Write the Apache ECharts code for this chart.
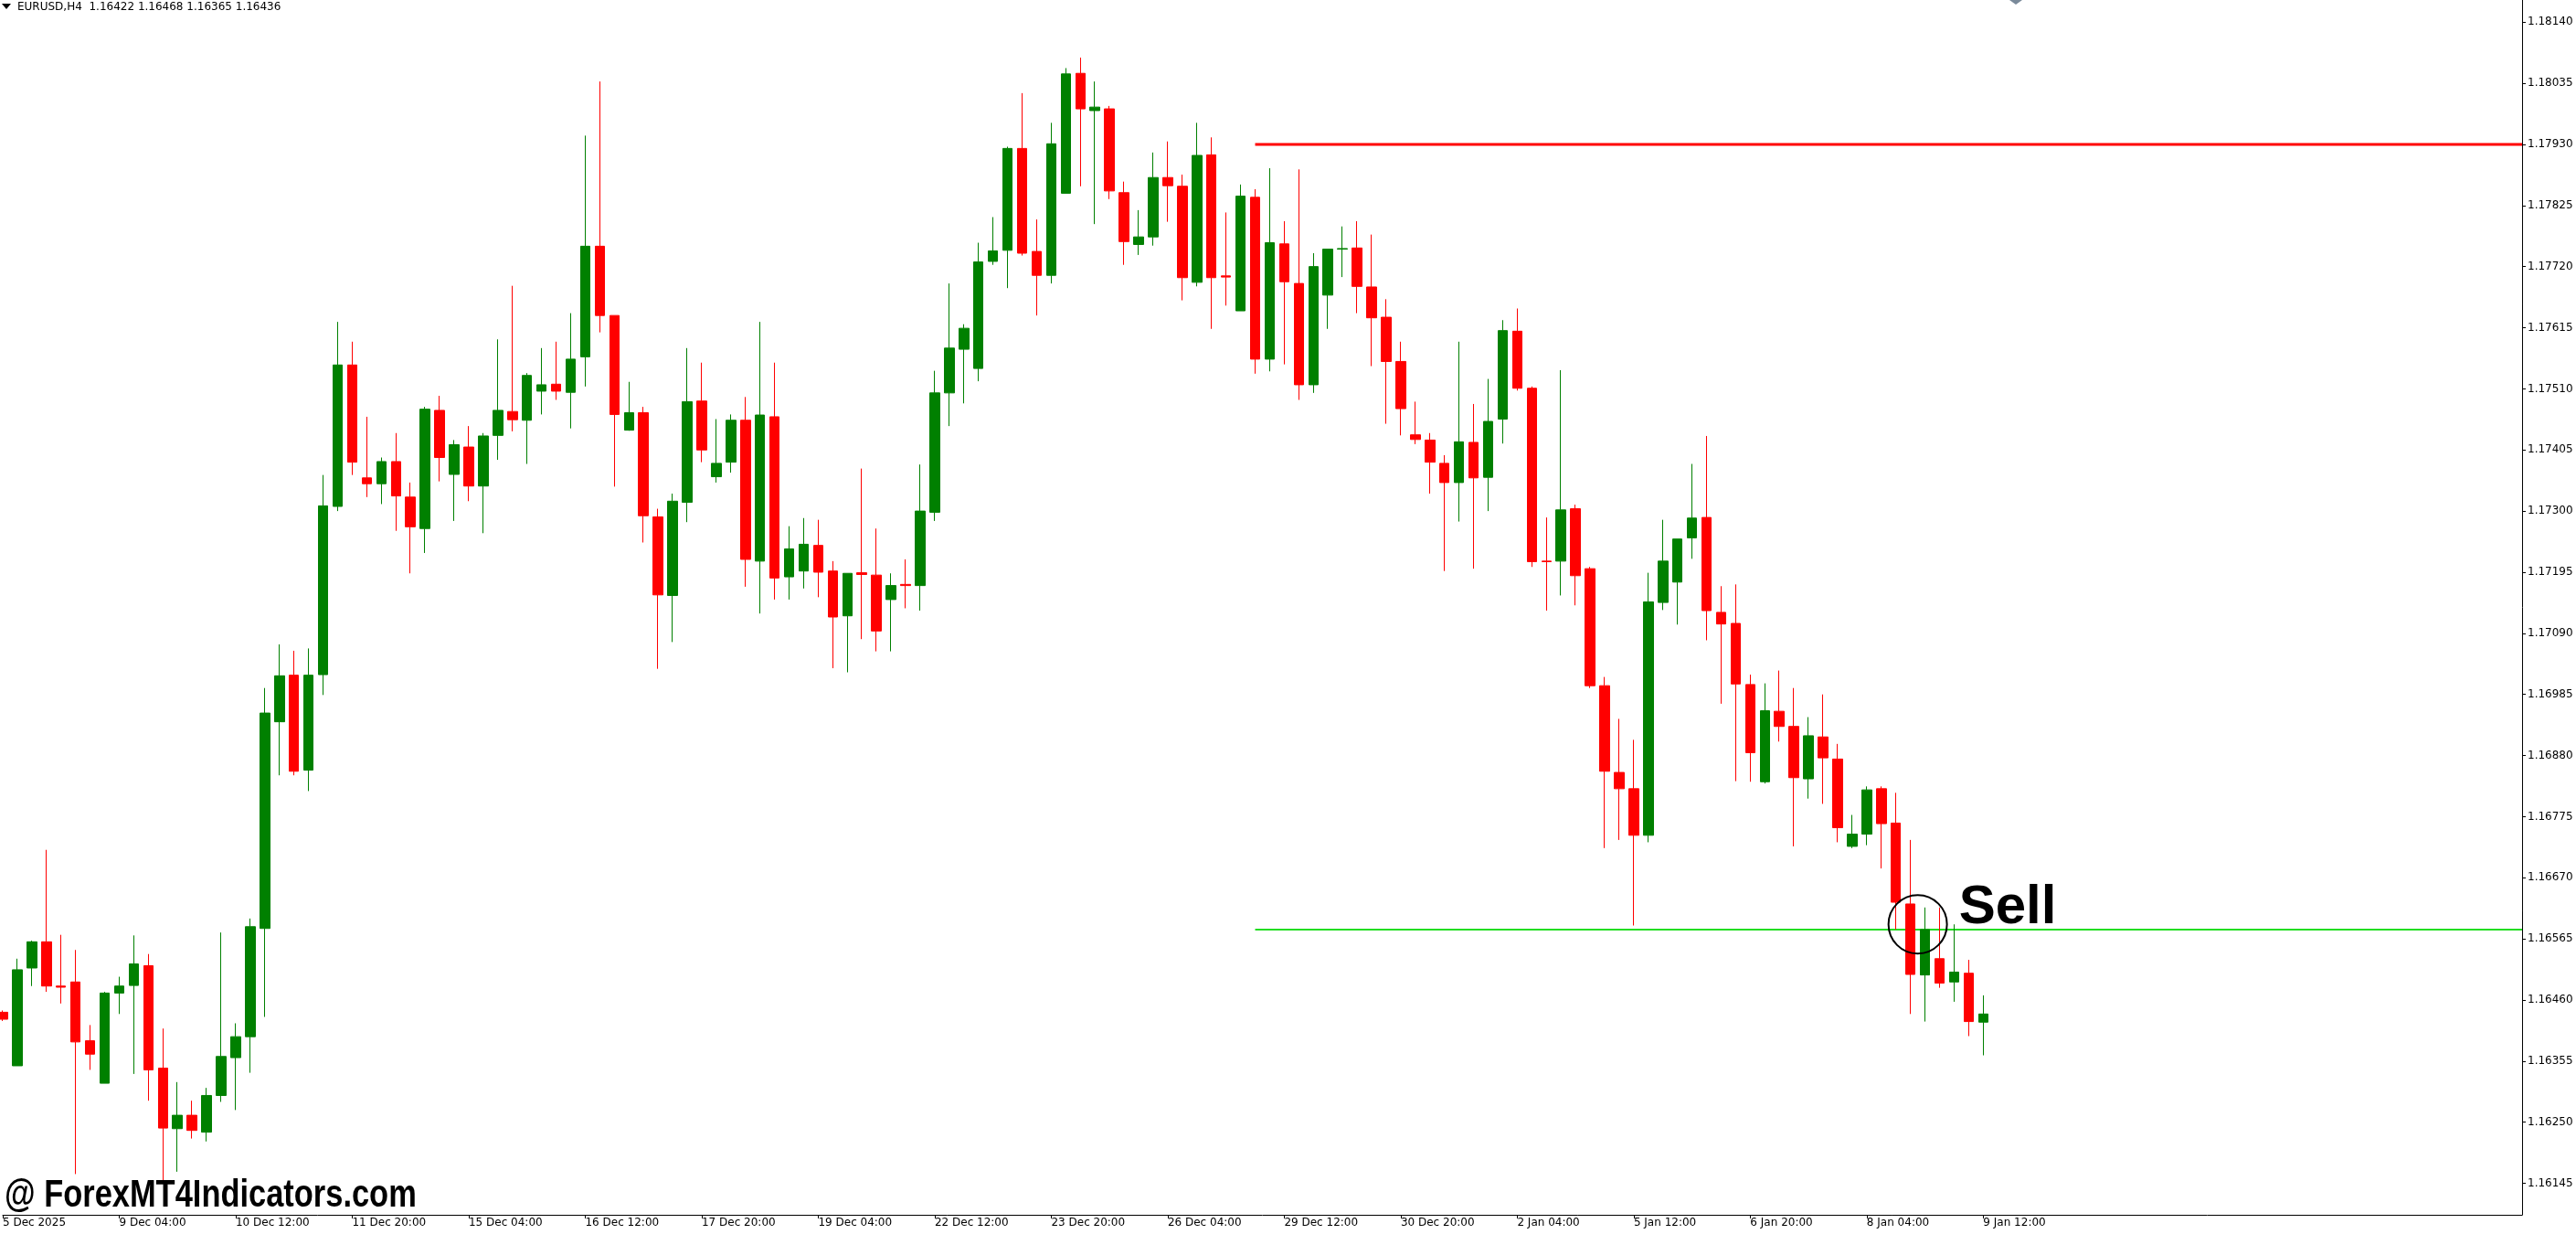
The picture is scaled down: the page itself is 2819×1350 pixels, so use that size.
<!DOCTYPE html>
<html><head><meta charset="utf-8">
<script src="https://cdn.jsdelivr.net/npm/echarts@6/dist/echarts.min.js"></script>
<style>html,body{margin:0;padding:0;background:#fff}#c{width:2819px;height:1350px}</style>
</head><body><div id="c"></div>
<script>
const openP=[1.16439,1.16347,1.16515,1.16560,1.16484,1.16491,1.16390,1.16317,1.16472,1.16485,
1.16519,1.16343,1.16239,1.16262,1.16233,1.16296,1.16361,1.16397,1.16583,1.16938,
1.17018,1.16855,1.17019,1.17308,1.17551,1.17357,1.17347,1.17385,1.17324,1.17270,
1.17473,1.17363,1.17410,1.17343,1.17430,1.17471,1.17456,1.17506,1.17518,1.17504,
1.17565,1.17755,1.17636,1.17439,1.17469,1.17290,1.17155,1.17315,1.17489,1.17359,
1.17384,1.17456,1.17214,1.17462,1.17187,1.17197,1.17241,1.17197,1.17120,1.17194,
1.17190,1.17148,1.17174,1.17172,1.17298,1.17503,1.17578,1.17545,1.17729,1.17748,
1.17923,1.17746,1.17705,1.17846,1.18052,1.17988,1.17991,1.17847,1.17758,1.17771,
1.17873,1.17858,1.17693,1.17912,1.17704,1.17644,1.17839,1.17561,1.17759,1.17691,
1.17517,1.17671,1.17750,1.17752,1.17685,1.17633,1.17557,1.17431,1.17422,1.17382,
1.17349,1.17418,1.17358,1.17458,1.17609,1.17511,1.17214,1.17214,1.17304,1.17201,
1.17000,1.16851,1.16823,1.16743,1.17143,1.17178,1.17254,1.17289,1.17126,1.17107,
1.17002,1.16835,1.16956,1.16930,1.16840,1.16912,1.16874,1.16724,1.16745,1.16823,
1.16764,1.16625,1.16503,1.16531,1.16491,1.16506,1.16422];
const closeP=[1.16427,1.16512,1.16560,1.16484,1.16482,1.16388,1.16367,1.16472,1.16484,1.16522,
1.16340,1.16240,1.16262,1.16236,1.16296,1.16363,1.16397,1.16586,1.16953,1.17017,
1.16853,1.17018,1.17309,1.17551,1.17384,1.17347,1.17385,1.17326,1.17273,1.17475,
1.17392,1.17414,1.17343,1.17429,1.17473,1.17457,1.17533,1.17517,1.17506,1.17561,
1.17755,1.17636,1.17466,1.17469,1.17292,1.17156,1.17317,1.17488,1.17405,1.17382,
1.17456,1.17217,1.17465,1.17185,1.17235,1.17243,1.17195,1.17118,1.17193,1.17191,
1.17094,1.17172,1.17172,1.17300,1.17503,1.17580,1.17614,1.17728,1.17747,1.17923,
1.17743,1.17705,1.17931,1.18051,1.17991,1.17994,1.17850,1.17763,1.17771,1.17873,
1.17859,1.17701,1.17911,1.17701,1.17702,1.17841,1.17561,1.17761,1.17694,1.17517,
1.17720,1.17750,1.17751,1.17686,1.17632,1.17557,1.17476,1.17423,1.17384,1.17349,
1.17419,1.17357,1.17454,1.17610,1.17511,1.17213,1.17213,1.17302,1.17189,1.17000,
1.16853,1.16823,1.16743,1.17144,1.17214,1.17252,1.17288,1.17129,1.17106,1.17003,
1.16885,1.16957,1.16930,1.16842,1.16914,1.16876,1.16756,1.16745,1.16821,1.16763,
1.16628,1.16504,1.16581,1.16489,1.16508,1.16423,1.16436];
const lowP=[1.16424,1.16347,1.16484,1.16474,1.16454,1.16161,1.16340,1.16317,1.16436,1.16333,
1.16287,1.16148,1.16165,1.16222,1.16217,1.16285,1.16271,1.16335,1.16431,1.16846,
1.16846,1.16819,1.16984,1.17300,1.17362,1.17324,1.17312,1.17266,1.17193,1.17228,
1.17351,1.17283,1.17317,1.17262,1.17388,1.17437,1.17381,1.17466,1.17491,1.17442,
1.17514,1.17607,1.17342,1.17438,1.17246,1.17029,1.17075,1.17281,1.17384,1.17349,
1.17366,1.17170,1.17124,1.17148,1.17148,1.17167,1.17152,1.17030,1.17023,1.17080,
1.17059,1.17059,1.17133,1.17129,1.17283,1.17446,1.17485,1.17523,1.17723,1.17683,
1.17739,1.17636,1.17691,1.17846,1.17858,1.17793,1.17836,1.17723,1.17740,1.17756,
1.17797,1.17662,1.17686,1.17613,1.17653,1.17644,1.17536,1.17540,1.17552,1.17491,
1.17503,1.17613,1.17702,1.17640,1.17549,1.17450,1.17430,1.17415,1.17330,1.17197,
1.17282,1.17201,1.17300,1.17416,1.17507,1.17204,1.17129,1.17155,1.17138,1.16996,
1.16721,1.16735,1.16588,1.16731,1.17130,1.17105,1.17218,1.17078,1.16969,1.16836,
1.16835,1.16832,1.16904,1.16724,1.16806,1.16797,1.16731,1.16721,1.16726,1.16686,
1.16581,1.16436,1.16423,1.16481,1.16457,1.16398,1.16365];
const highP=[1.16442,1.16531,1.16562,1.16718,1.16572,1.16546,1.16417,1.16474,1.16500,1.16571,
1.16539,1.16411,1.16319,1.16287,1.16309,1.16576,1.16420,1.16600,1.16996,1.17071,
1.17060,1.17064,1.17362,1.17625,1.17591,1.17462,1.17392,1.17434,1.17349,1.17479,
1.17498,1.17422,1.17446,1.17434,1.17595,1.17687,1.17537,1.17580,1.17591,1.17640,
1.17945,1.18038,1.17636,1.17522,1.17479,1.17304,1.17330,1.17580,1.17555,1.17458,
1.17466,1.17496,1.17625,1.17555,1.17274,1.17288,1.17285,1.17214,1.17193,1.17373,
1.17270,1.17193,1.17217,1.17380,1.17541,1.17691,1.17621,1.17761,1.17805,1.17926,
1.18018,1.17801,1.17967,1.18061,1.18079,1.18038,1.17996,1.17866,1.17817,1.17916,
1.17935,1.17878,1.17967,1.17942,1.17813,1.17861,1.17853,1.17889,1.17798,1.17887,
1.17743,1.17750,1.17789,1.17798,1.17775,1.17664,1.17591,1.17488,1.17434,1.17396,
1.17591,1.17484,1.17527,1.17628,1.17648,1.17514,1.17289,1.17542,1.17311,1.17204,
1.17015,1.16943,1.16907,1.17194,1.17285,1.17252,1.17381,1.17429,1.17171,1.17174,
1.17019,1.17004,1.17026,1.16996,1.16946,1.16985,1.16900,1.16778,1.16827,1.16827,
1.16816,1.16735,1.16619,1.16619,1.16590,1.16529,1.16468];
const timeLabels=['5 Dec 2025','9 Dec 04:00','10 Dec 12:00','11 Dec 20:00','15 Dec 04:00','16 Dec 12:00','17 Dec 20:00','19 Dec 04:00','22 Dec 12:00','23 Dec 20:00','26 Dec 04:00','29 Dec 12:00','30 Dec 20:00','2 Jan 04:00','5 Jan 12:00','6 Jan 20:00','8 Jan 04:00','9 Jan 12:00'];
const priceTicks=[1.16145,1.16250,1.16355,1.16460,1.16565,1.16670,1.16775,1.16880,1.16985,1.17090,1.17195,1.17300,1.17405,1.17510,1.17615,1.17720,1.17825,1.17930,1.18035,1.18140];
const resistance=1.17930, support=1.16581, lastPrice=1.16436;
const lineStart=86, sellIdx=131;
const totalSlots=174, labelStep=8;

const cats=[];for(let i=0;i<totalSlots;i++)cats.push(String(i));
const candle=openP.map((o,i)=>[o,closeP[i],lowP[i],highP[i]]);
const resLine=cats.map((c,i)=>i>=lineStart?resistance:null);
const supLine=cats.map((c,i)=>i>=lineStart?support:null);
const chart=echarts.init(document.getElementById('c'),null,{renderer:'canvas'});
chart.setOption({
 animation:false,backgroundColor:'#fff',
 grid:{left:2,right:59,top:0,bottom:21},
 xAxis:{type:'category',data:cats,boundaryGap:false,
  axisLine:{lineStyle:{color:'#000',width:1}},
  axisTick:{show:true,interval:(i)=>i%labelStep===0&&i/labelStep<timeLabels.length,length:4,lineStyle:{color:'#000'}},
  axisLabel:{interval:0,align:'left',margin:3,fontFamily:'DejaVu Sans',fontSize:12,color:'#000',
   formatter:(v,i)=>(i%labelStep===0&&timeLabels[i/labelStep])?timeLabels[i/labelStep]:''},
  splitLine:{show:false}},
 yAxis:{type:'value',position:'right',min:1.16091,max:1.18178,scale:true,
  axisLine:{show:true,lineStyle:{color:'#000'}},
  axisTick:{show:true,customValues:priceTicks,length:4,lineStyle:{color:'#000'}},
  axisLabel:{customValues:priceTicks,formatter:v=>v.toFixed(5),fontFamily:'DejaVu Sans',fontSize:12,color:'#000',margin:6},
  splitLine:{show:false}},
 series:[
  {type:'candlestick',data:candle,barWidth:11,
   itemStyle:{color:'#008000',color0:'#ff0000',borderColor:'#008000',borderColor0:'#ff0000',borderWidth:1},
   markLine:{symbol:'none',silent:true,animation:false,
    lineStyle:{color:'#8a99aa',width:1,type:'solid'},
    label:{position:'end',formatter:lastPrice.toFixed(5),backgroundColor:'#000',color:'#fff',fontFamily:'DejaVu Sans',fontSize:12,padding:[1,3,1,4],distance:1},
    data:[{yAxis:lastPrice}]}},
  {type:'line',data:resLine,symbol:'none',lineStyle:{color:'#ff0000',width:3},z:1},
  {type:'line',data:supLine,symbol:'none',lineStyle:{color:'#22dd22',width:2},z:1}
 ]
});
const c=chart.convertToPixel({gridIndex:0},[sellIdx,support+0.00009]);
const c2=chart.convertToPixel({gridIndex:0},[sellIdx+1,support]);
const cx=(c[0]+c2[0])/2, cy=c[1];
chart.setOption({graphic:[
 {type:'circle',shape:{cx:cx,cy:cy,r:32},style:{fill:'none',stroke:'#000',lineWidth:2},z:100},
 {type:'text',x:cx+45,y:cy+12,style:{text:'Sell',font:'bold 60px "Liberation Sans"',fill:'#000',textVerticalAlign:'bottom'},z:100},
 {type:'text',x:5,y:1329,scaleX:0.82,style:{text:'@ ForexMT4Indicators.com',font:'bold 42px "Liberation Sans"',fill:'#000',textVerticalAlign:'bottom'},z:100},
 {type:'polygon',shape:{points:[[2,4],[12,4],[7,10]]},style:{fill:'#000'},z:100},
 {type:'text',x:19,y:2,style:{text:'EURUSD,H4  1.16422 1.16468 1.16365 1.16436',font:'12px "DejaVu Sans"',fill:'#000'},z:100},
 {type:'polygon',shape:{points:[[2199,0],[2213,0],[2206,5]]},style:{fill:'#7a8a9a'},z:100}
]});
</script></body></html>
